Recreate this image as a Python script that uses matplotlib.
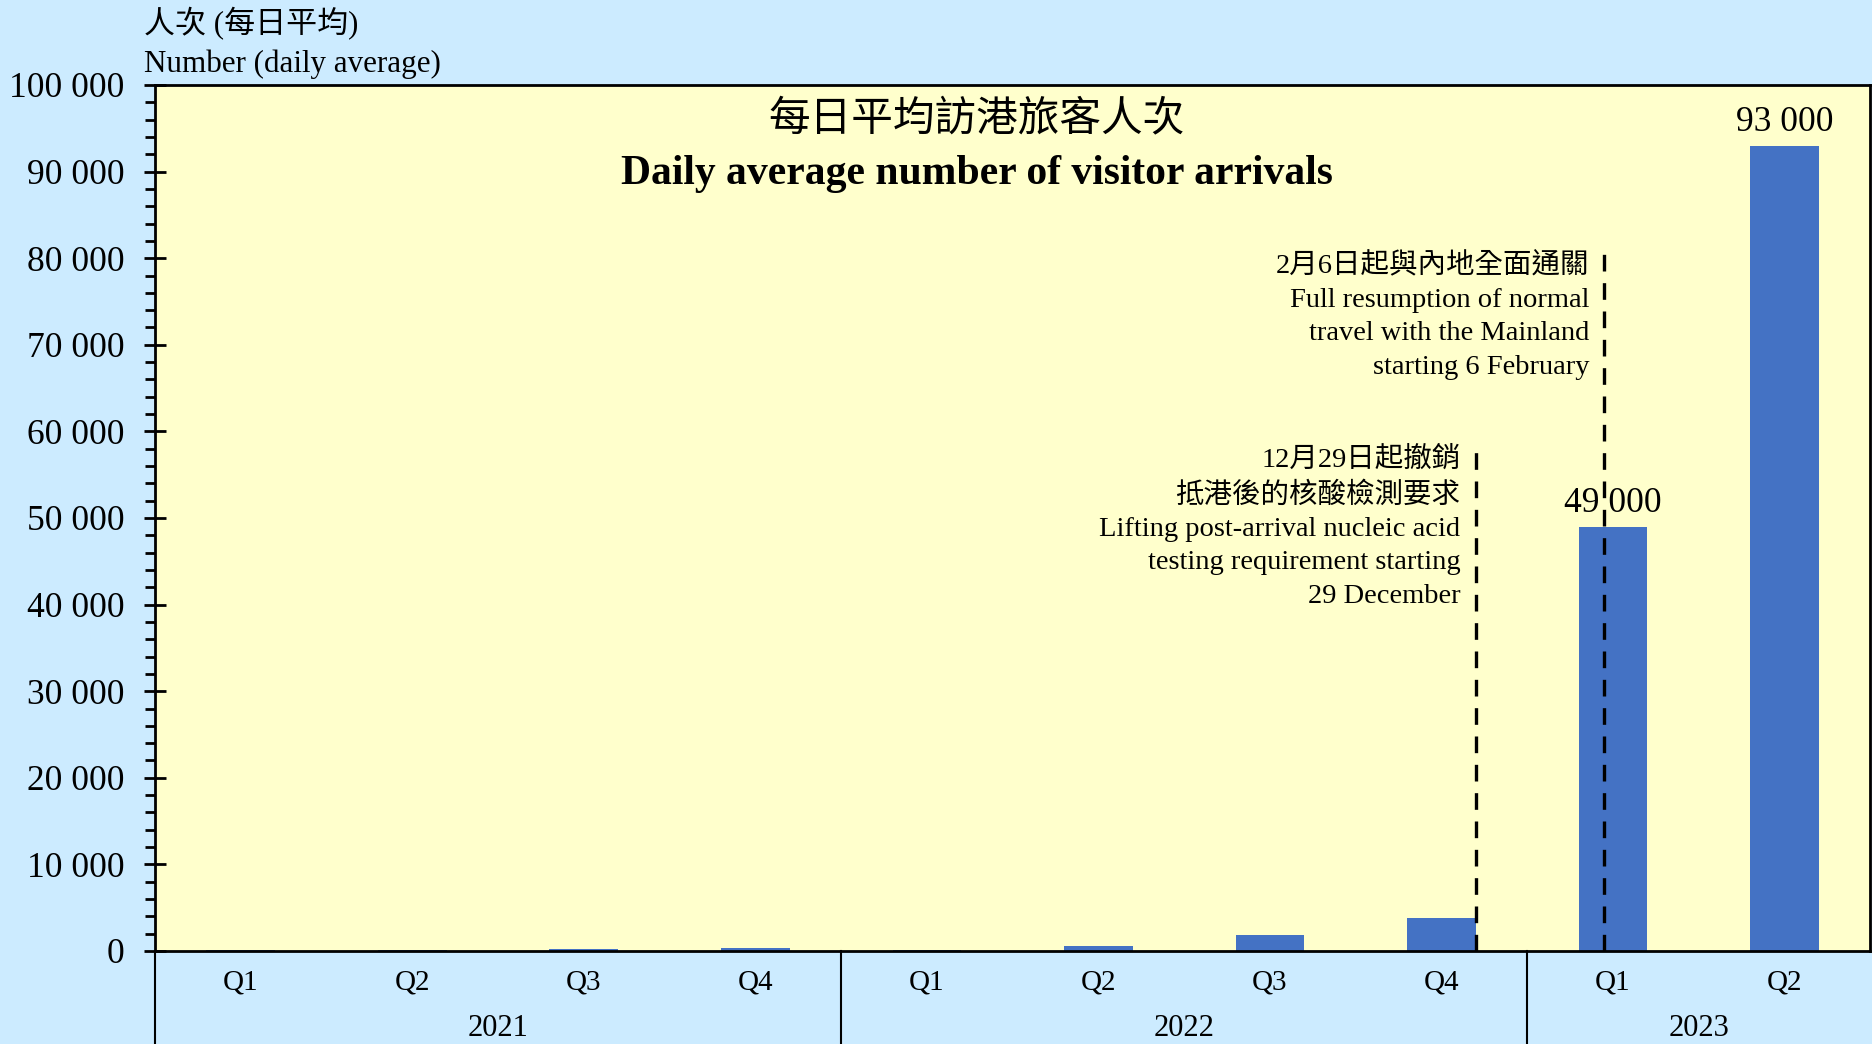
"""
Daily average visitor arrivals to Hong Kong, 2021 Q1 - 2023 Q2
"""

import matplotlib.pyplot as plt
from matplotlib.ticker import MultipleLocator, FuncFormatter

plt.rcParams["font.family"] = ["Liberation Serif", "Noto Sans CJK TC"]

# data
quarters = ["Q1", "Q2", "Q3", "Q4", "Q1", "Q2", "Q3", "Q4", "Q1", "Q2"]
years = ["2021", "2022", "2023"]
year_span = [(0, 3), (4, 7), (8, 9)]
arrivals = [100, 110, 250, 300, 120, 600, 1900, 3800, 49000, 93000]
labelled = {8: "49 000", 9: "93 000"}

# policy events (x position between bars, top of the dashed line)
event_x = [7.2, 7.95]
event_top = [57600, 80600]
event_text = [
    "12月29日起撤銷\n抵港後的核酸檢測要求\nLifting post-arrival nucleic acid\ntesting requirement starting\n29 December",
    "2月6日起與內地全面通關\nFull resumption of normal\ntravel with the Mainland\nstarting 6 February",
]

bg = "#CCEBFF"
plot_bg = "#FFFFCC"
bar_color = "#4472C4"

fig = plt.figure(figsize=(18.72, 10.44), dpi=100, facecolor=bg)
ax = fig.add_axes([0.0828, 0.0891, 0.9162, 0.8295])
ax.set_facecolor(plot_bg)

x = list(range(len(arrivals)))
ax.bar(x, arrivals, width=0.4, color=bar_color, zorder=2)

for i, txt in labelled.items():
    ax.annotate(txt, (i, arrivals[i]), xytext=(0, 5), textcoords="offset points",
                ha="center", va="bottom", fontsize=25.5, zorder=3)

for ex, ey, txt, dy in zip(event_x, event_top, event_text, [4, 0]):
    ax.vlines(ex, 0, ey, colors="black", linestyles=(0, (5, 3.5)),
              linewidth=2.4, zorder=4)
    ax.annotate(txt, (ex, ey), xytext=(-11, dy), textcoords="offset points",
                ha="right", va="top", fontsize=20.5, linespacing=1.44)

ax.set_xlim(-0.5, len(arrivals) - 0.5)
ax.set_ylim(0, 100000)

ax.yaxis.set_major_locator(MultipleLocator(10000))
ax.yaxis.set_minor_locator(MultipleLocator(2000))
ax.yaxis.set_major_formatter(FuncFormatter(lambda v, p: f"{int(v):,}".replace(",", " ")))
ax.tick_params(axis="y", which="major", direction="inout", length=15.8, width=2,
               labelsize=25.5, pad=14)
ax.tick_params(axis="y", which="minor", direction="out", length=7.2, width=2)

ax.set_xticks(x)
ax.set_xticklabels(quarters)
ax.tick_params(axis="x", length=0, labelsize=21, pad=13)

for s in ax.spines.values():
    s.set_linewidth(2)

# year groups under the quarter labels
for yr, (a, b) in zip(years, year_span):
    ax.text((a + b) / 2, -0.09, yr, transform=ax.get_xaxis_transform(),
            ha="center", va="center", fontsize=22)
for sep in [-0.5, 3.5, 7.5]:
    ax.axvline(sep, ymin=-0.2, ymax=0, color="black", lw=1.5, clip_on=False)

# axis title at the top left
fig.text(0.077, 0.977, "人次 (每日平均)", ha="left", va="center", fontsize=22.3)
fig.text(0.077, 0.938, "Number (daily average)", ha="left", va="center", fontsize=22.3)

# chart title
ax.text(0.479, 0.958, "每日平均訪港旅客人次", transform=ax.transAxes,
        ha="center", va="center", fontsize=30)
ax.text(0.479, 0.897, "Daily average number of visitor arrivals", transform=ax.transAxes,
        ha="center", va="center", fontsize=30, fontweight="bold")

fig.savefig("out.png", dpi=100, facecolor=bg)
